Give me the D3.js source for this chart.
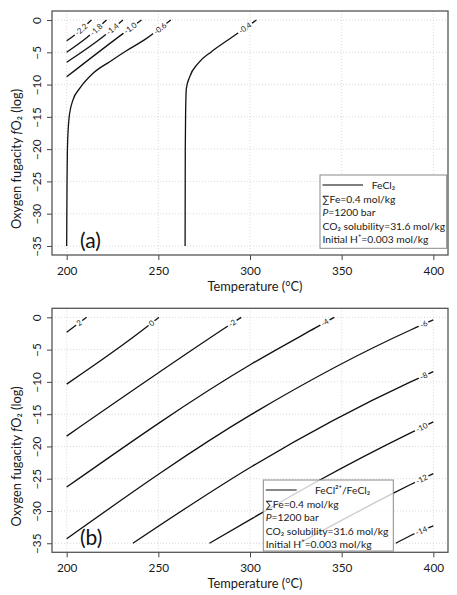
<!DOCTYPE html>
<html>
<head>
<meta charset="utf-8">
<script src="https://cdn.jsdelivr.net/npm/d3@7"></script>
<style>
  body { margin: 0; background: #fff; }
  svg { display: block; font-family: Lato, "Open Sans", sans-serif; }
</style>
</head>
<body>
<div id="chart"></div>
<script>
// axis ticks
const tempTicks = [200, 250, 300, 350, 400];
const fo2Ticks = [0, -5, -10, -15, -20, -25, -30, -35];

// (a) FeCl2 contours: [temperature °C, log fO2]
const levelsA = ["-2.2", "-1.8", "-1.4", "-1.0", "-0.6", "-0.4"];
const linesA = [
  [[200, -3.2], [203.5, -2.5], [213.5, 0]],
  [[200, -5.0], [210.7, -2.8], [221.7, 0]],
  [[200, -6.55], [219.8, -2.6], [230.7, 0]],
  [[200, -8.8], [229.8, -2.3], [240.8, 0]],
  [[200, -35], [200.2, -25], [200.4, -20], [201.3, -15.2], [203.4, -12.4], [207.1, -10.6],
   [214.4, -8.25], [223.5, -6.45], [232.6, -4.75], [242.8, -3.0], [256.8, 0]],
  [[264.6, -35], [264.7, -20], [264.9, -14], [265.3, -10.6], [267.1, -8.8], [271.7, -6.7],
   [279, -4.9], [288, -3.1], [303.5, 0]]
];

// (b) FeCl2+/FeCl2 contours
const levelsB = ["2", "0", "-2", "-4", "-6", "-8", "-10", "-12", "-14"];
const linesB = [
  [[200, -2.3], [210.9, 0]],
  [[200, -10.35], [243.4, -1.55], [250.3, 0]],
  [[200, -18.4], [286.1, -1.7], [295.2, 0]],
  [[200, -26.3], [301, -7.2], [335.9, -1.6], [346, 0]],
  [[200, -34.3], [301, -15.0], [387.6, -1.96], [400, -0.4]],
  [[236.1, -35], [301, -23.1], [387.6, -10.0], [400, -8.4]],
  [[277.9, -35], [301.5, -31.1], [336.8, -25.4], [387.6, -17.9], [400, -16.2]],
  [[326.8, -35], [378.5, -27.2], [387.6, -25.9], [400, -24.2]],
  [[379.5, -35], [387.6, -33.8], [400, -32.3]]
];

const legendNotes = ["∑Fe=0.4 mol/kg", "P=1200 bar", "CO₂ solubility=31.6 mol/kg", "Initial H⁺=0.003 mol/kg"];

const W = 457, H = 595;
const svg = d3.select("#chart").append("svg").attr("width", W).attr("height", H);
const defs = svg.append("defs");

const x = d3.scaleLinear().domain([192, 408]).range([52, 448]);

function panel(cfg) {
  const top = cfg.top, bottom = cfg.top + 244;
  const y = d3.scaleLinear().domain([-36.4, 1.4]).range([bottom, top]);
  const g = svg.append("g");

  // dotted grid
  g.selectAll(".gx").data(tempTicks).join("line")
    .attr("x1", d => x(d)).attr("x2", d => x(d)).attr("y1", top).attr("y2", bottom)
    .attr("stroke", "#cfcfcf").attr("stroke-width", 0.8).attr("stroke-dasharray", "1,2");
  g.selectAll(".gy").data(fo2Ticks).join("line")
    .attr("x1", 52).attr("x2", 448).attr("y1", d => y(d)).attr("y2", d => y(d))
    .attr("stroke", "#cfcfcf").attr("stroke-width", 0.8).attr("stroke-dasharray", "1,2");

  // axes
  const xa = g.append("g").attr("transform", `translate(0,${bottom})`)
    .call(d3.axisBottom(x).tickValues(tempTicks).tickSize(5));
  xa.select(".domain").remove();
  xa.selectAll("line").attr("stroke", "#444");
  xa.selectAll("text").attr("y", 19.5).attr("dy", 0)
    .attr("font-size", 11.8).attr("font-family", "Lato").attr("fill", "#1a1a1a");

  const ya = g.append("g").attr("transform", "translate(52,0)")
    .call(d3.axisLeft(y).tickValues(fo2Ticks).tickSize(5)
      .tickFormat(d => d < 0 ? "−" + Math.abs(d) : d));
  ya.select(".domain").remove();
  ya.selectAll("line").attr("stroke", "#444");
  ya.selectAll("text").attr("x", 0).attr("dy", 0).attr("text-anchor", "middle")
    .attr("transform", "translate(-11,0) rotate(-90)")
    .attr("font-size", 11.8).attr("font-family", "Lato").attr("fill", "#1a1a1a");

  // axis titles
  g.append("text").attr("x", 255).attr("y", bottom + 36).attr("text-anchor", "middle")
    .attr("font-size", 12.8).attr("fill", "#1a1a1a").text("Temperature (°C)");
  const yt = g.append("text").attr("text-anchor", "middle").attr("font-size", 12.8).attr("fill", "#1a1a1a")
    .attr("transform", `translate(21,${(top + bottom) / 2 + 26}) rotate(-90)`);
  yt.append("tspan").text("Oxygen fugacity ");
  yt.append("tspan").attr("font-style", "italic").text("f");
  yt.append("tspan").text("O₂ (log)");

  // contour lines, labels cut into them with a mask
  const maskId = "mask" + cfg.id;
  const mask = defs.append("mask").attr("id", maskId).attr("maskUnits", "userSpaceOnUse")
    .attr("x", 0).attr("y", 0).attr("width", W).attr("height", H);
  mask.append("rect").attr("width", W).attr("height", H).attr("fill", "white");

  const line = d3.line().x(d => x(d[0])).y(d => y(d[1])).curve(d3.curveMonotoneX);
  const cg = g.append("g").attr("mask", `url(#${maskId})`);
  const lg = g.append("g");

  cfg.lines.forEach((pts, i) => {
    const p = cg.append("path").attr("d", line(pts))
      .attr("fill", "none").attr("stroke", "#111").attr("stroke-width", 1.3);
    const t = lg.append("text").attr("text-anchor", "middle").attr("dy", "0.35em")
      .attr("font-size", 7.8).attr("fill", "#222").text(cfg.levels[i]);
    const w = t.node().getComputedTextLength();
    const node = p.node(), L = node.getTotalLength();
    const s = L - (w / 2 + 7);
    const a = node.getPointAtLength(s - 3), b = node.getPointAtLength(s + 3), c = node.getPointAtLength(s);
    const ang = Math.atan2(b.y - a.y, b.x - a.x) * 180 / Math.PI;
    const tr = `translate(${c.x},${c.y}) rotate(${ang})`;
    t.attr("transform", tr);
    mask.append("rect").attr("x", -w / 2 - 1.5).attr("y", -3.5).attr("width", w + 3).attr("height", 7)
      .attr("transform", tr).attr("fill", "black");
  });

  // panel tag
  g.append("text").attr("x", 80).attr("y", bottom - 7).attr("font-size", 21).attr("fill", "#111").text(cfg.tag);

  // legend
  const lgd = cfg.legend;
  const lb = g.append("g").attr("transform", `translate(${lgd.x},${lgd.y})`);
  lb.append("rect").attr("width", lgd.w).attr("height", lgd.h)
    .attr("fill", "white").attr("fill-opacity", lgd.alpha).attr("stroke", "#8a8a8a").attr("stroke-width", 1);
  lb.append("line").attr("x1", 2.5).attr("x2", lgd.lineLen).attr("y1", 10).attr("y2", 10)
    .attr("stroke", "#555").attr("stroke-width", 1.4);
  lb.append("text").attr("x", lgd.titleX).attr("y", 14).attr("font-size", 10.3).attr("fill", "#1a1a1a")
    .text(lgd.title);
  legendNotes.forEach((s, i) => {
    const tx = lb.append("text").attr("x", 2.5).attr("y", 14 + 13.5 * (i + 1))
      .attr("font-size", 10.3).attr("fill", "#1a1a1a");
    if (s.startsWith("P=")) {
      tx.append("tspan").attr("font-style", "italic").text("P");
      tx.append("tspan").text(s.slice(1));
    } else tx.text(s);
  });

  // frame
  g.append("rect").attr("x", 52).attr("y", top).attr("width", 396).attr("height", 244)
    .attr("fill", "none").attr("stroke", "#555").attr("stroke-width", 1.3);
}

panel({
  id: "a", top: 11, levels: levelsA, lines: linesA, tag: "(a)",
  legend: { x: 320, y: 175, w: 126.7, h: 73.3, alpha: 1, lineLen: 43, titleX: 51.7, title: "FeCl₂" }
});
panel({
  id: "b", top: 308.3, levels: levelsB, lines: linesB, tag: "(b)",
  legend: { x: 263.3, y: 480, w: 130, h: 71, alpha: 0.78, lineLen: 33.4, titleX: 51.7, title: "FeCl²⁺/FeCl₂" }
});
</script>
</body>
</html>
